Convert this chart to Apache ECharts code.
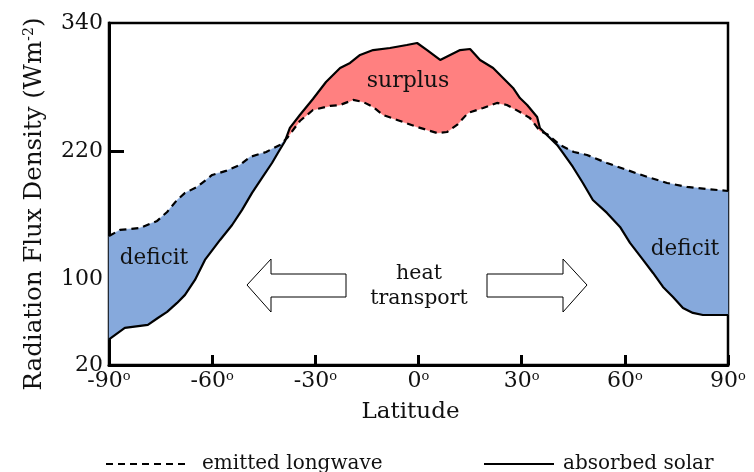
<!DOCTYPE html>
<html>
<head>
<meta charset="utf-8">
<script src="https://cdn.jsdelivr.net/npm/echarts@6/dist/echarts.min.js"></script>
<style>
html,body{margin:0;padding:0;background:#fff;}
#chart{width:754px;height:472px;}
</style>
</head>
<body>
<div id="chart"></div>
<script>
// ---- Data ----
const solarLat = [-90,-85.4,-78.7,-75.8,-73.1,-70.2,-67.9,-65,-62.1,-57.7,-54.2,-51.3,-48.4,-45.5,-42.6,-40.9,-38.8,-37.4,-34.5,-30.7,-26.9,-22.8,-19.9,-17,-13.2,-8.3,-3.4,-0.4,2.5,6.3,9.2,12.1,15,17.9,21.7,24.6,27.5,29.5,31.6,34.5,35.3,37.4,40.3,42,44.9,47.8,50.7,54.8,58.6,61.5,65.3,68.2,71.1,74,76.9,79.8,82.7,90];
const solarVal = [44,54.7,57.5,64,69.7,78.1,85.6,99.6,118.3,137,151,165.1,181,195,209,218.4,229.6,241.8,253.9,268.9,284.8,297.9,302.6,310.1,314.7,316.6,319.4,321.3,314.7,305.4,310.1,314.7,315.7,305.4,297.9,288.6,279.2,269.8,263.3,252.1,241.8,235,225.9,218.4,205.3,190.3,174.4,162.3,149.2,134.2,118.3,106.1,93,83.7,73.4,68.7,66.8,66.8];
const lwLat = [-90,-86.8,-81,-76,-73.1,-70.2,-67.9,-64.4,-60,-56,-51.9,-49,-44.3,-40.3,-38.2,-34.5,-30.7,-25.7,-22.8,-19,-16.1,-13.2,-10.3,-6.2,-0.4,5.4,8.3,11.2,14.4,18.8,22.8,25.7,29.5,32.4,35.3,37.4,41.1,45.2,49,54.8,60.6,66.4,72.3,78.1,83.9,90];
const lwVal = [140.7,146.4,148.2,154.8,163.2,174.4,181,186.6,197.8,201.6,207.2,214.7,219.3,225.9,232.4,248.3,258.6,262.4,263.3,268,266.1,261.4,253.9,249.3,242.7,237.1,238,244.6,255.8,260.5,265.2,263.3,256.7,251.1,239,236,225.9,219.3,216.5,209,202.5,196.1,190.3,186.6,184.7,182.8];
const xTicks = [-90,-60,-30,0,30,60,90];
const yLabels = [20,100,220,340];
const yTicks = [100,220];
const seriesNames = ['emitted longwave','absorbed solar'];

const FONT = 'DejaVu Serif';
const RED = '#ff8080';
const BLUE = '#86a9dc';

function interp(xs, ys, x) {
  if (x <= xs[0]) return ys[0];
  for (let i = 1; i < xs.length; i++) {
    if (x <= xs[i]) {
      const t = (x - xs[i-1]) / (xs[i] - xs[i-1]);
      return ys[i-1] + t * (ys[i] - ys[i-1]);
    }
  }
  return ys[ys.length-1];
}

function buildRegions() {
  const grid = Array.from(new Set(solarLat.concat(lwLat))).sort((a,b)=>a-b);
  const pts = grid.map(x => ({x, s: interp(solarLat, solarVal, x), l: interp(lwLat, lwVal, x)}));
  const full = [pts[0]];
  for (let i = 1; i < pts.length; i++) {
    const a = pts[i-1], b = pts[i];
    const da = a.s - a.l, db = b.s - b.l;
    if (da * db < 0) {
      const t = da / (da - db);
      const x = a.x + t * (b.x - a.x);
      const s = a.s + t * (b.s - a.s);
      full.push({x, s, l: s, cross: true});
    }
    full.push(b);
  }
  const regions = [];
  let cur = [full[0]];
  for (let i = 1; i < full.length; i++) {
    cur.push(full[i]);
    if (full[i].cross || i === full.length - 1) {
      let sum = 0;
      cur.forEach(p => sum += p.s - p.l);
      regions.push({pts: cur, surplus: sum > 0});
      cur = [full[i]];
    }
  }
  return regions;
}
const regions = buildRegions();

const chart = echarts.init(document.getElementById('chart'), null, {renderer: 'canvas'});

const option = {
  animation: false,
  backgroundColor: '#fff',
  textStyle: {fontFamily: FONT},
  grid: {left: 109, right: 26, top: 23, bottom: 107, show: true, borderColor: '#000', borderWidth: 2.5, backgroundColor: 'transparent'},
  legend: [
    {data: [seriesNames[0]], left: 100, top: 449, itemWidth: 84, itemHeight: 14,
     itemStyle: {opacity: 0},
     textStyle: {fontFamily: FONT, fontSize: 20, color: '#111', padding: [0,0,0,7]}},
    {data: [seriesNames[1]], left: 478, top: 449, itemWidth: 70, itemHeight: 14,
     itemStyle: {opacity: 0},
     textStyle: {fontFamily: FONT, fontSize: 20, color: '#111', padding: [0,0,0,4]}}
  ],
  xAxis: {
    type: 'value', min: -90, max: 90, interval: 30,
    name: 'Latitude', nameLocation: 'middle', nameGap: 36,
    nameTextStyle: {fontFamily: FONT, fontSize: 23, color: '#111', padding: [0, 16, 0, 0]},
    axisLine: {show: true, onZero: false, lineStyle: {color: '#000', width: 3}},
    axisTick: {show: true, inside: true, length: 10, lineStyle: {color: '#000', width: 3}},
    splitLine: {show: false},
    axisLabel: {
      margin: 5, color: '#111',
      formatter: v => '{a|' + v + '}{b|o}',
      rich: {
        a: {fontFamily: FONT, fontSize: 22, color: '#111', lineHeight: 23},
        b: {fontFamily: FONT, fontSize: 13, color: '#111', verticalAlign: 'top', lineHeight: 13}
      }
    }
  },
  yAxis: {
    type: 'value', min: 20, max: 340,
    name: 'Radiation Flux Density (Wm{s|-2})', nameLocation: 'middle', nameGap: 62, nameRotate: 90,
    nameTextStyle: {fontFamily: FONT, fontSize: 24.5, color: '#111', padding: [0, 20, 0, 0],
      rich: {s: {fontFamily: FONT, fontSize: 14, color: '#111', verticalAlign: 'top', lineHeight: 14}}},
    axisLine: {show: true, onZero: false, lineStyle: {color: '#000', width: 3}},
    axisTick: {show: true, inside: true, length: 15, customValues: yTicks, lineStyle: {color: '#000', width: 3}},
    splitLine: {show: false},
    axisLabel: {customValues: yLabels, margin: 6, fontFamily: FONT, fontSize: 22, color: '#111'}
  },
  series: [
    {
      type: 'custom',
      coordinateSystem: 'cartesian2d',
      silent: true,
      z: 1,
      data: [[0, 0]],
      renderItem: function (params, api) {
        const children = regions.map(r => {
          const top = r.pts.map(p => api.coord([p.x, p.s]));
          const bot = r.pts.slice().reverse().map(p => api.coord([p.x, p.l]));
          return {type: 'polygon', shape: {points: top.concat(bot)},
                  style: {fill: r.surplus ? RED : BLUE, stroke: r.surplus ? RED : BLUE, lineWidth: 0.5}};
        });
        return {type: 'group', children};
      }
    },
    {
      name: seriesNames[0], type: 'line', z: 3, symbol: 'none', silent: true,
      data: lwLat.map((x, i) => [x, lwVal[i]]),
      lineStyle: {color: '#000', width: 2.2, type: [7, 5]},
      itemStyle: {color: '#000'}
    },
    {
      name: seriesNames[1], type: 'line', z: 3, symbol: 'none', silent: true,
      data: solarLat.map((x, i) => [x, solarVal[i]]),
      lineStyle: {color: '#000', width: 2.2},
      itemStyle: {color: '#000'}
    }
  ],
  graphic: [
    {type: 'text', x: 408, y: 81, z: 10, style: {text: 'surplus', font: '22px "DejaVu Serif"', fill: '#111', align: 'center', verticalAlign: 'middle'}},
    {type: 'text', x: 154, y: 258, z: 10, style: {text: 'deficit', font: '21.5px "DejaVu Serif"', fill: '#111', align: 'center', verticalAlign: 'middle'}},
    {type: 'text', x: 685, y: 249, z: 10, style: {text: 'deficit', font: '21.5px "DejaVu Serif"', fill: '#111', align: 'center', verticalAlign: 'middle'}},
    {type: 'text', x: 419, y: 286, z: 10, style: {text: 'heat\ntransport', font: '20.5px "DejaVu Serif"', lineHeight: 25, fill: '#111', align: 'center', verticalAlign: 'middle'}},
    {type: 'polygon', z: 10, shape: {points: [[247,285],[271,259],[271,274],[346,274],[346,297],[271,297],[271,312]]},
     style: {fill: '#fff', stroke: '#000', lineWidth: 1}},
    {type: 'polygon', z: 10, shape: {points: [[487,274],[563,274],[563,259],[587,285],[563,312],[563,297],[487,297]]},
     style: {fill: '#fff', stroke: '#000', lineWidth: 1}}
  ]
};
chart.setOption(option);
</script>
</body>
</html>
